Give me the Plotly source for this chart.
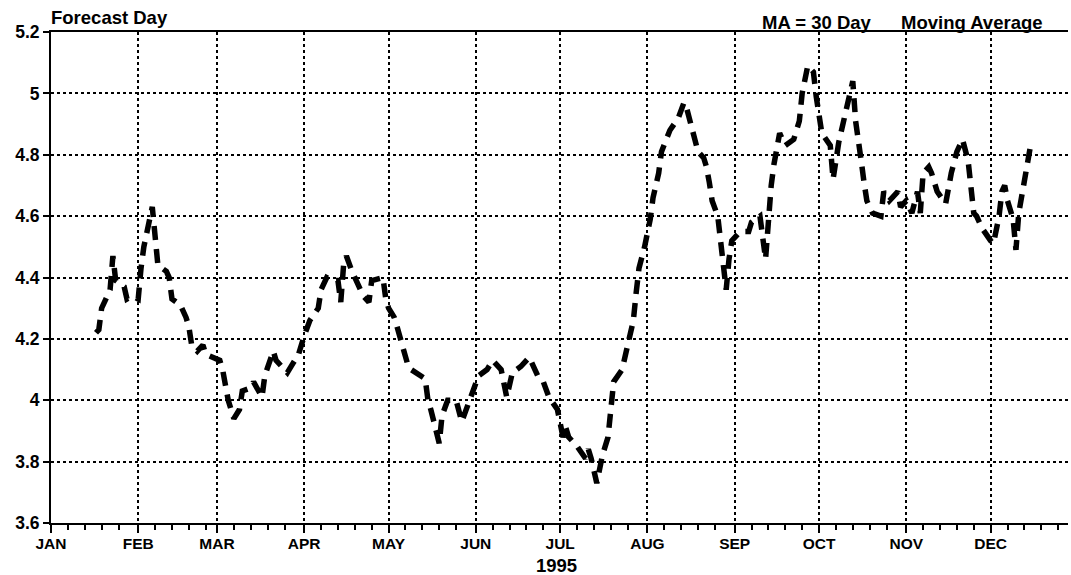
import pandas as pd
import plotly.graph_objects as go

# 30-day moving average, 1995 — days counted from 1 January
day_offset = [
    16, 17, 18, 21, 22, 23, 26, 27, 29, 31,
    32, 33, 36, 37, 38, 41, 42, 43, 46, 48,
    49, 50, 52, 54, 55, 60, 61, 62, 63, 65,
    67, 68, 71, 72, 75, 76, 79, 80, 84, 86,
    88, 90, 92, 95, 96, 98, 100, 102, 103, 104,
    105, 107, 109, 111, 113, 114, 118, 119, 120, 122,
    123, 125, 127, 128, 133, 134, 135, 138, 139, 141,
    144, 146, 148, 150, 152, 155, 157, 160, 162, 164,
    167, 170, 171, 173, 175, 177, 180, 181, 182, 183,
    184, 187, 190, 191, 192, 194, 196, 198, 199, 200,
    203, 205, 207, 208, 209, 211, 213, 214, 216, 217,
    220, 223, 225, 226, 228, 230, 232, 233, 234, 235,
    237, 238, 239, 240, 241, 242, 245, 248, 249, 252,
    254, 255, 256, 257, 259, 261, 264, 266, 267, 269,
    271, 272, 273, 274, 277, 278, 280, 282, 283, 285,
    286, 287, 288, 289, 290, 292, 294, 295, 296, 298,
    301, 302, 304, 306, 308, 309, 310, 312, 313, 315,
    318, 320, 322, 324, 326, 327, 328, 329, 331, 334,
    335, 337, 338, 339, 340, 342, 343, 344, 346, 348,
]

moving_avg = [
    4.22, 4.23, 4.30, 4.36, 4.47, 4.39, 4.37, 4.33, 4.34, 4.33,
    4.43, 4.50, 4.63, 4.53, 4.44, 4.42, 4.40, 4.33, 4.31, 4.27,
    4.24, 4.18, 4.16, 4.18, 4.15, 4.13, 4.10, 4.05, 4.00, 3.94,
    3.97, 4.03, 4.04, 4.06, 4.01, 4.08, 4.16, 4.13, 4.09, 4.12,
    4.15, 4.21, 4.26, 4.30, 4.36, 4.40, 4.39, 4.39, 4.32, 4.44,
    4.47, 4.42, 4.38, 4.34, 4.32, 4.39, 4.40, 4.33, 4.30, 4.27,
    4.24, 4.18, 4.11, 4.10, 4.07, 4.00, 3.97, 3.86, 3.95, 4.00,
    4.00, 3.93, 3.98, 4.04, 4.08, 4.10, 4.13, 4.10, 4.01, 4.09,
    4.11, 4.14, 4.12, 4.08, 4.06, 4.01, 3.97, 3.93, 3.88, 3.91,
    3.88, 3.85, 3.81, 3.84, 3.81, 3.73, 3.82, 3.88, 3.97, 4.06,
    4.10, 4.18, 4.26, 4.35, 4.43, 4.50, 4.59, 4.66, 4.74, 4.81,
    4.88, 4.92, 4.97, 4.95, 4.88, 4.81, 4.79, 4.76, 4.71, 4.65,
    4.60, 4.52, 4.46, 4.36, 4.46, 4.52, 4.55, 4.55, 4.58, 4.60,
    4.46, 4.61, 4.70, 4.77, 4.87, 4.83, 4.85, 4.91, 5.00, 5.09,
    5.07, 4.99, 4.92, 4.87, 4.83, 4.72, 4.84, 4.92, 4.96, 5.04,
    4.91, 4.83, 4.78, 4.71, 4.65, 4.61, 4.60, 4.60, 4.68, 4.65,
    4.68, 4.63, 4.65, 4.61, 4.68, 4.61, 4.74, 4.76, 4.74, 4.68,
    4.64, 4.74, 4.81, 4.85, 4.78, 4.68, 4.61, 4.60, 4.56, 4.52,
    4.51, 4.60, 4.68, 4.70, 4.65, 4.59, 4.49, 4.61, 4.72, 4.82,
]

month_labels = ["JAN", "FEB", "MAR", "APR", "MAY", "JUN",
                "JUL", "AUG", "SEP", "OCT", "NOV", "DEC"]
y_ticks = [3.6, 3.8, 4.0, 4.2, 4.4, 4.6, 4.8, 5.0, 5.2]
y_tick_labels = ["3.6", "3.8", "4", "4.2", "4.4", "4.6", "4.8", "5", "5.2"]
minor_days = [7, 13, 19, 25]

year_start = pd.Timestamp("1995-01-01")
dates = year_start + pd.to_timedelta(day_offset, unit="D")
month_starts = pd.date_range("1995-01-01", periods=12, freq="MS")
minor_ticks = [m + pd.Timedelta(days=d - 1) for m in month_starts for d in minor_days]
x_end = year_start + pd.Timedelta(days=361.5)

FONT = "Liberation Sans"

fig = go.Figure(
    go.Scatter(
        x=dates,
        y=moving_avg,
        mode="lines",
        line=dict(color="black", width=5.5, dash="14px,9px"),
        hoverinfo="x+y",
        showlegend=False,
    )
)

fig.update_layout(
    width=1071,
    height=575,
    margin=dict(l=51, r=3, t=32, b=52),
    paper_bgcolor="white",
    plot_bgcolor="white",
    font=dict(family=FONT, color="black"),
)

fig.update_xaxes(
    type="date",
    range=[year_start, x_end],
    tickmode="array",
    tickvals=month_starts,
    ticktext=month_labels,
    tickfont=dict(family=FONT, size=15.5, weight="bold", color="black"),
    ticks="outside",
    ticklen=8,
    tickwidth=1.5,
    tickcolor="black",
    ticklabelstandoff=-3,
    showline=True,
    linecolor="black",
    linewidth=2,
    mirror=True,
    showgrid=True,
    gridcolor="black",
    gridwidth=1.6,
    griddash="3px,3px",
    zeroline=False,
    minor=dict(
        tickmode="array",
        tickvals=minor_ticks,
        ticks="outside",
        ticklen=5,
        tickwidth=1.5,
        tickcolor="black",
        showgrid=False,
    ),
)

fig.update_yaxes(
    range=[3.6, 5.2],
    tickmode="array",
    tickvals=y_ticks,
    ticktext=y_tick_labels,
    tickfont=dict(family=FONT, size=17.5, weight="bold", color="black"),
    ticks="outside",
    ticklen=6,
    tickwidth=1.5,
    tickcolor="black",
    showline=True,
    linecolor="black",
    linewidth=2,
    showgrid=True,
    gridcolor="black",
    gridwidth=1.6,
    griddash="3px,3px",
    zeroline=False,
)

header_font = dict(family=FONT, size=18.5, weight="bold", color="black")
fig.add_annotation(text="Forecast Day", xref="paper", yref="paper",
                   x=0.0, y=1.0, xanchor="left", yanchor="bottom",
                   showarrow=False, font=header_font, xshift=-2, yshift=2)
fig.add_annotation(text="MA = 30 Day", xref="paper", yref="paper",
                   x=(763 - 51) / 1017, y=1.0, xanchor="left", yanchor="bottom",
                   showarrow=False, font=header_font, xshift=-3, yshift=-3)
fig.add_annotation(text="Moving Average", xref="paper", yref="paper",
                   x=(902 - 51) / 1017, y=1.0, xanchor="left", yanchor="bottom",
                   showarrow=False, font=header_font, xshift=-3, yshift=-3)
fig.add_annotation(text="1995", xref="paper", yref="paper",
                   x=0.5, y=0.0, xanchor="center", yanchor="middle",
                   showarrow=False, font=header_font, xshift=-3, yshift=-42)

fig.write_html("out.html")
